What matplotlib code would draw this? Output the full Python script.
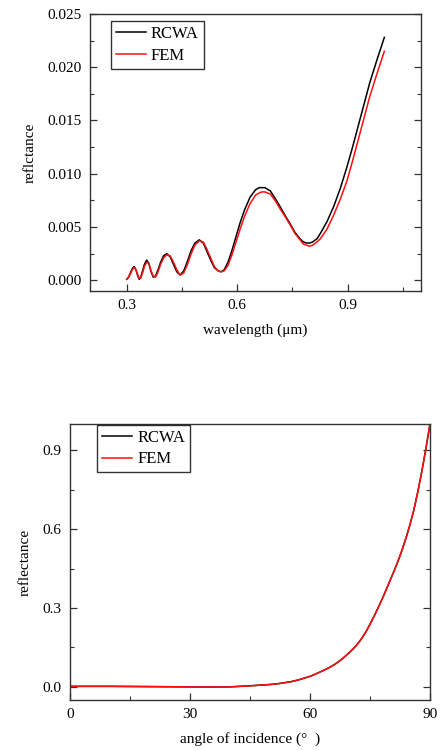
import matplotlib
matplotlib.use("Agg")
import matplotlib.pyplot as plt
from matplotlib.ticker import MultipleLocator

plt.rcParams['font.family'] = ['Liberation Serif', 'DejaVu Serif']

# ---------------- data: top panel ----------------
wavelength = [0.300, 0.305, 0.310, 0.315, 0.320, 0.325, 0.330, 0.334, 0.338, 0.343,
              0.348, 0.354, 0.360, 0.366, 0.372, 0.378, 0.385, 0.392, 0.400, 0.409,
              0.418, 0.427, 0.436, 0.445, 0.455, 0.465, 0.475, 0.485, 0.497, 0.508,
              0.518, 0.528, 0.538, 0.548, 0.556, 0.565, 0.575, 0.585,
              0.596, 0.608, 0.620, 0.635, 0.650, 0.660, 0.667, 0.675, 0.690, 0.703,
              0.717, 0.730, 0.744, 0.757, 0.771, 0.780, 0.789, 0.797, 0.805, 0.817,
              0.826, 0.844, 0.862, 0.880, 0.898, 0.912, 0.926, 0.943, 0.960, 0.980,
              1.000]
rcwa_wl = [0.0001, 0.0003, 0.0007, 0.0011, 0.0013, 0.0010, 0.0004, 0.0001, 0.0003, 0.0009,
           0.0015, 0.0019, 0.0016, 0.0008, 0.0003, 0.0004, 0.0010, 0.0017, 0.0023, 0.0025,
           0.0022, 0.0015, 0.0008, 0.0005, 0.0009, 0.0018, 0.0028, 0.0035, 0.0038, 0.0035,
           0.0027, 0.0019, 0.0012, 0.0009, 0.0008, 0.0010, 0.0017, 0.0027,
           0.0040, 0.0054, 0.0066, 0.0078, 0.0085, 0.0087, 0.0087, 0.0087, 0.0084, 0.0077,
           0.0069, 0.0061, 0.0053, 0.0045, 0.0039, 0.0036, 0.0035, 0.0035, 0.0036, 0.0039,
           0.0044, 0.0055, 0.0069, 0.0086, 0.0106, 0.0123, 0.0141, 0.0163, 0.0185, 0.0207,
           0.0228]
fem_wl = [0.0001, 0.0003, 0.0006, 0.0010, 0.0012, 0.0010, 0.0005, 0.0002, 0.0002, 0.0007,
          0.0013, 0.0017, 0.0016, 0.0009, 0.0004, 0.0003, 0.0008, 0.0015, 0.0021, 0.0024,
          0.0023, 0.0017, 0.0010, 0.0005, 0.0007, 0.0015, 0.0025, 0.0033, 0.0037, 0.0036,
          0.0029, 0.0021, 0.0013, 0.0009, 0.0008, 0.0009, 0.0014, 0.0023,
          0.0035, 0.0048, 0.0060, 0.0072, 0.0080, 0.0082, 0.0083, 0.0083, 0.0081, 0.0075,
          0.0067, 0.0060, 0.0052, 0.0044, 0.0038, 0.0034, 0.0033, 0.0032, 0.0033, 0.0036,
          0.0039, 0.0048, 0.0061, 0.0076, 0.0093, 0.0110, 0.0128, 0.0150, 0.0172, 0.0194,
          0.0215]

# ---------------- data: bottom panel ----------------
angle = [0, 5, 10, 15, 20, 25, 30, 35, 40, 45, 50, 52, 55, 57, 60, 61, 62, 63, 64, 65,
         66, 67, 68, 69, 70, 71, 72, 73, 74, 75, 76, 77, 78, 79, 80, 81, 82, 83, 84,
         85, 86, 87, 88, 89, 90]
rcwa_ang = [0.002, 0.002, 0.002, 0.0015, 0.001, 0.0005, 0.0, -0.0005, 0.0, 0.004, 0.009,
            0.012, 0.019, 0.026, 0.040, 0.046, 0.053, 0.060, 0.067, 0.075,
            0.084, 0.094, 0.106, 0.119, 0.133, 0.148, 0.165, 0.186, 0.210, 0.238,
            0.268, 0.300, 0.333, 0.368, 0.404, 0.440, 0.478, 0.520, 0.566,
            0.617, 0.675, 0.745, 0.823, 0.908, 1.0]
fem_ang = [0.002, 0.002, 0.002, 0.0015, 0.001, 0.0005, 0.0, -0.0005, 0.0, 0.004, 0.009,
           0.012, 0.019, 0.026, 0.040, 0.046, 0.053, 0.060, 0.067, 0.075,
           0.084, 0.094, 0.106, 0.119, 0.133, 0.148, 0.165, 0.186, 0.210, 0.238,
           0.268, 0.300, 0.333, 0.368, 0.404, 0.440, 0.478, 0.520, 0.566,
           0.617, 0.675, 0.745, 0.823, 0.908, 1.0]

fig = plt.figure(figsize=(4.41, 7.51), dpi=100)

spine_col = '#333333'
FS = 11


def style(ax):
    for s in ax.spines.values():
        s.set_color(spine_col)
        s.set_linewidth(1.0)
    ax.tick_params(which='both', direction='in', left=True, right=True,
                   top=False, bottom=True, labelsize=FS, colors=spine_col,
                   labelcolor='black', pad=6)
    ax.tick_params(which='major', length=5, width=0.9)
    ax.tick_params(which='minor', length=3, width=0.8)


legend_kw = dict(loc='upper left', fontsize=12, frameon=True, fancybox=False,
                 edgecolor='black', handlelength=1.8, handletextpad=0.3,
                 borderpad=0.3, labelspacing=0.35, borderaxespad=0)

# top panel
ax1 = fig.add_axes([0.204, 0.6125, 0.751, 0.369])
ax1.plot(wavelength, rcwa_wl, color='black', lw=1.1, label='RCWA')
ax1.plot(wavelength, fem_wl, color='#ff1010', lw=1.1, label='FEM')
ax1.set_xlim(0.2, 1.1)
ax1.set_ylim(-0.001, 0.025)
ax1.xaxis.set_minor_locator(MultipleLocator(0.15))
ax1.yaxis.set_minor_locator(MultipleLocator(0.0025))
ax1.set_xticks([0.3, 0.6, 0.9])
ax1.set_xticklabels(['0.3', '0.6', '0.9'])
ax1.set_yticks([0.0, 0.005, 0.010, 0.015, 0.020, 0.025])
ax1.set_yticklabels(['0.000', '0.005', '0.010', '0.015', '0.020', '0.025'])
style(ax1)
ax1.set_xlabel('wavelength (μm)', fontsize=FS, labelpad=8)
ax1.set_ylabel('reflctance', fontsize=FS, labelpad=8)
leg1 = ax1.legend(bbox_to_anchor=(0.063, 0.975), **legend_kw)
leg1.get_frame().set_linewidth(1.0)

# bottom panel
ax2 = fig.add_axes([0.159, 0.0679, 0.816, 0.3675])
ax2.plot(angle, rcwa_ang, color='black', lw=1.1, label='RCWA')
ax2.plot(angle, fem_ang, color='#ff1010', lw=1.1, label='FEM')
ax2.set_xlim(0, 90)
ax2.set_ylim(-0.05, 1.0)
ax2.xaxis.set_major_locator(MultipleLocator(30))
ax2.xaxis.set_minor_locator(MultipleLocator(15))
ax2.set_yticks([0.0, 0.3, 0.6, 0.9])
ax2.set_yticklabels(['0.0', '0.3', '0.6', '0.9'])
ax2.yaxis.set_minor_locator(MultipleLocator(0.15))
style(ax2)
ax2.set_xlabel('angle of incidence (°  )', fontsize=FS, labelpad=8)
ax2.set_ylabel('reflectance', fontsize=FS, labelpad=8)
leg2 = ax2.legend(bbox_to_anchor=(0.075, 0.998), **legend_kw)
leg2.get_frame().set_linewidth(1.0)

fig.savefig('out.png', dpi=100)
